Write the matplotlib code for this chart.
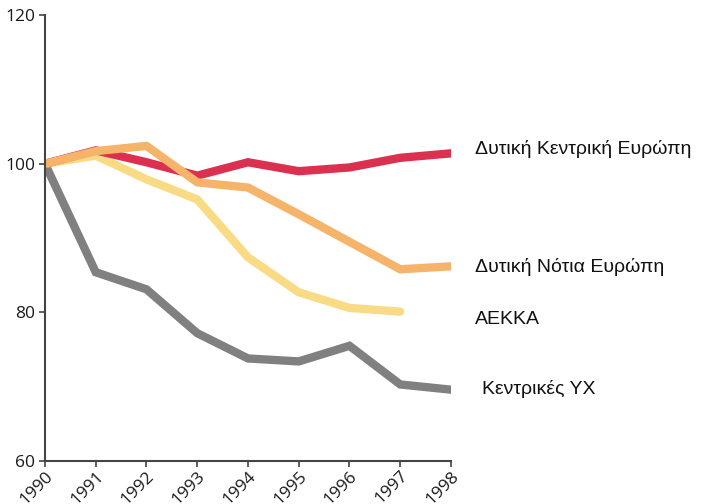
import matplotlib.pyplot as plt

years = [1990, 1991, 1992, 1993, 1994, 1995, 1996, 1997, 1998]

west_central = [100, 101.8, 100.2, 98.4, 100.2, 99.0, 99.5, 100.8, 101.4]
west_south = [100, 101.7, 102.4, 97.5, 96.8, 93.2, 89.5, 85.8, 86.2]
aekka = [100, 101.1, 97.9, 95.2, 87.4, 82.7, 80.6, 80.1]
central_yx = [100, 85.4, 83.1, 77.2, 73.8, 73.4, 75.5, 70.3, 69.6]

labels = ['Δυτική Κεντρική Ευρώπη', 'Δυτική Νότια Ευρώπη', 'ΑΕΚΚΑ', 'Κεντρικές ΥΧ']
label_y = [102.0, 86.1, 79.1, 69.7]
label_dx = [24, 24, 24, 31]

fig = plt.figure(figsize=(7.03, 5.04), dpi=100)
ax = fig.add_axes([0.064, 0.0853, 0.5775, 0.8847])

lw = 6
ax.plot(years, central_yx, color='#808080', lw=lw, solid_capstyle='round', solid_joinstyle='miter')
ax.plot(years[:len(aekka)], aekka, color='#FADB85', lw=lw, solid_capstyle='round', solid_joinstyle='miter')
ax.plot(years, west_central, color='#DC3050', lw=lw, solid_capstyle='round', solid_joinstyle='miter')
ax.plot(years, west_south, color='#F5B46A', lw=lw, solid_capstyle='round', solid_joinstyle='miter')

ax.set_xlim(1990, 1998)
ax.set_ylim(60, 120)
ax.set_yticks([60, 80, 100, 120])
ax.set_xticks(years)
ax.set_xticklabels([str(y) for y in years], rotation=45, ha='right', rotation_mode='anchor')

for side in ['top', 'right']:
    ax.spines[side].set_visible(False)
for side in ['left', 'bottom']:
    ax.spines[side].set_color('#444444')
    ax.spines[side].set_linewidth(1.5)
ax.tick_params(axis='both', colors='#444444', labelcolor='#1a1a1a', labelsize=12.5, length=4, width=1.2)
for lab in ax.get_xticklabels() + ax.get_yticklabels():
    lab.set_family('Open Sans')
ax.tick_params(axis='y', pad=3)
ax.tick_params(axis='x', pad=1)

for text, y, dx in zip(labels, label_y, label_dx):
    ax.annotate(text, xy=(1998, y), xytext=(dx, 0), textcoords='offset pixels',
                xycoords='data', va='center', ha='left', fontsize=14,
                family='Liberation Sans', color='#111111', annotation_clip=False)

fig.savefig('out.png', dpi=100)
